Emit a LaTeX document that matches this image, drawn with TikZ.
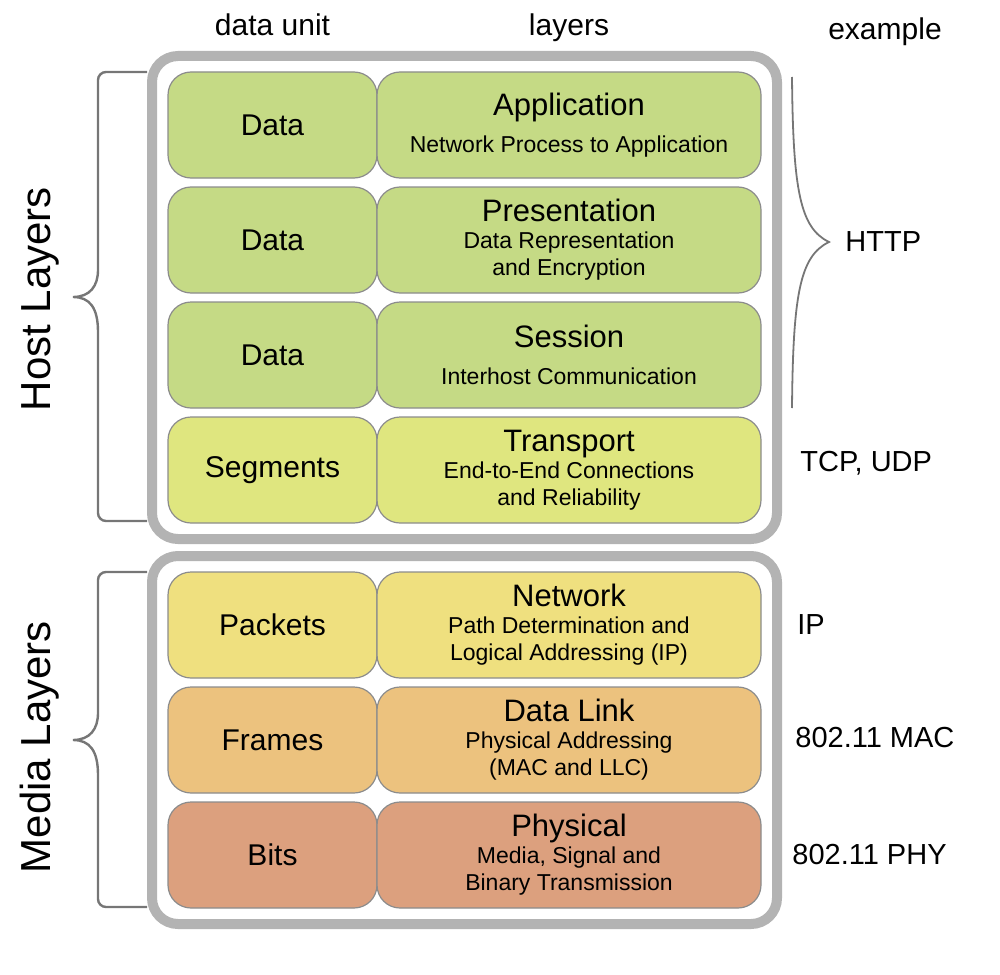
\documentclass[tikz,border=0pt]{standalone}
\usepackage{fontspec}
\setmainfont{Liberation Sans}
\usepackage{xcolor}
\usetikzlibrary{positioning,fit}

\definecolor{upper}{RGB}{197,218,133}
\definecolor{transport}{RGB}{223,230,127}
\definecolor{network}{RGB}{239,224,127}
\definecolor{datalink}{RGB}{236,194,126}
\definecolor{physical}{RGB}{220,160,126}
\definecolor{boxline}{RGB}{140,140,140}
\definecolor{frameline}{RGB}{179,179,179}
\definecolor{braceline}{RGB}{118,118,118}

\newcommand{\layername}[1]{{\fontsize{15.5}{15.5}\selectfont #1}}

\begin{document}
\begin{tikzpicture}[
    x=0.5pt, y=-0.5pt,
    node distance=4.5pt and 0pt,  % rows stacked with a small gap, columns touching
    unit/.style = {draw=boxline, line width=0.6pt, fill=#1, rounded corners=11.5pt, outer sep=0pt,
      minimum width=104.5pt, minimum height=53pt, inner sep=1pt, font=\fontsize{15}{18}\selectfont},
    layer/.style = {unit=#1, minimum width=192pt, align=center, font=\fontsize{11.5}{13.5}\selectfont},
    layerframe/.style = {draw=frameline, line width=5pt, rounded corners=13pt, inner sep=8pt},
    bracket/.style = {draw=braceline, line width=1.2pt},
    header/.style = {font=\fontsize{15}{18}\selectfont, inner sep=0pt},
    example/.style = {font=\fontsize{14.5}{17}\selectfont, inner sep=0pt, anchor=west},
    sidelabel/.style = {font=\fontsize{21}{25}\selectfont, inner sep=0pt, rotate=90, anchor=base}
  ]
  \useasboundingbox (0,0) rectangle (1000,974);

  % host layers
  \node[unit=upper] (dapp) at (272.5,125) {Data};
  \node[layer=upper, right=of dapp] (lapp) {\layername{Application}\\[5pt]Network Process to Application};
  \node[unit=upper, below=of dapp] (dpres) {Data};
  \node[layer=upper, right=of dpres] (lpres) {\layername{Presentation}\\Data Representation\\and Encryption};
  \node[unit=upper, below=of dpres] (dsess) {Data};
  \node[layer=upper, right=of dsess] (lsess) {\layername{Session}\\[5pt]Interhost Communication};
  \node[unit=transport, below=of dsess] (dtrans) {Segments};
  \node[layer=transport, right=of dtrans] (ltrans) {\layername{Transport}\\End-to-End Connections\\and Reliability};

  % media layers
  \node[unit=network, below=24.5pt of dtrans] (dnet) {Packets};
  \node[layer=network, right=of dnet] (lnet) {\layername{Network}\\Path Determination and\\Logical Addressing (IP)};
  \node[unit=datalink, below=of dnet] (ddl) {Frames};
  \node[layer=datalink, right=of ddl] (ldl) {\layername{Data Link}\\Physical Addressing\\(MAC and LLC)};
  \node[unit=physical, below=of ddl] (dphy) {Bits};
  \node[layer=physical, right=of dphy] (lphy) {\layername{Physical}\\Media, Signal and\\Binary Transmission};

  \node[layerframe, fit=(dapp)(ltrans)] (host) {};
  \node[layerframe, fit=(dnet)(lphy)] (media) {};

  % column heads
  \node[header, above=18pt of dapp, anchor=base] (hunit) {data unit};
  \node[header, above=18pt of lapp, anchor=base] (hlayer) {layers};
  \node[header, anchor=base] (hexample) at (885,40) {example};

  % braces on the left
  \draw[bracket, rounded corners=4pt] (147,72) -- (98,72) -- (98,262) [sharp corners]
    .. controls (98,286) and (90,297) .. (73,297) .. controls (90,297) and (98,308) .. (98,332)
    [rounded corners=4pt] -- (98,521) -- (147,521);
  \draw[bracket, rounded corners=4pt] (147,572) -- (98,572) -- (98,705) [sharp corners]
    .. controls (98,729) and (90,740) .. (73,740) .. controls (90,740) and (98,751) .. (98,775)
    [rounded corners=4pt] -- (98,907) -- (147,907);
  \node[sidelabel] (hostlbl) at (50,299) {Host Layers};
  \node[sidelabel] (medialbl) at (50,747) {Media Layers};

  % examples
  \coordinate (httptip) at (829,242);
  \draw[braceline, line width=0.9pt] (792,77) .. controls (793,190) and (800,228) .. (httptip)
    .. controls (800,256) and (793,294) .. (792,408);
  \node[example, right=8pt of httptip] (http) {HTTP};
  \node[example, right=19.5pt of ltrans, yshift=3.5pt] (tcp) {TCP, UDP};
  \node[example, right=18pt of lnet] (ip) {IP};
  \node[example, right=17pt of ldl, yshift=1pt] (mac) {802.11 MAC};
  \node[example, right=15.5pt of lphy] (phy) {802.11 PHY};
\end{tikzpicture}
\end{document}
